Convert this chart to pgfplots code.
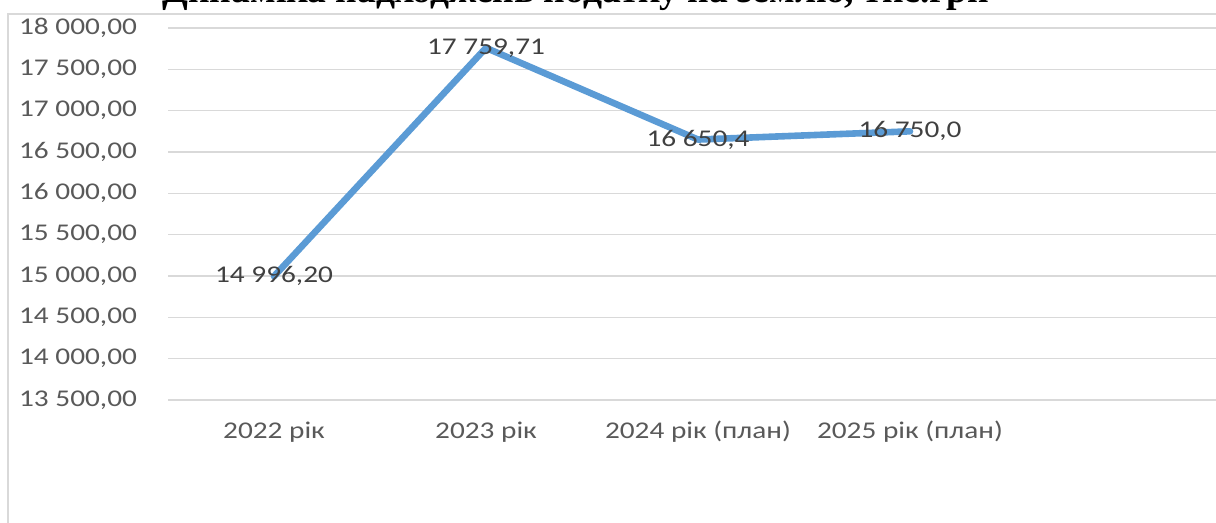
\documentclass[border=0pt]{standalone}
\usepackage{pgfplots}
\pgfplotsset{compat=1.18}
\usepackage{fontspec}
\setmainfont{Carlito}[FakeStretch=1.22]
\newfontfamily\titlefont{Liberation Serif}
\definecolor{linebl}{HTML}{5B9BD5}
\definecolor{gridgr}{HTML}{D9D9D9}
\definecolor{txtgr}{HTML}{595959}
\definecolor{lblgr}{HTML}{404040}
\begin{document}
\begin{tikzpicture}
% image is 1216 x 523 px, 1 px = 0.5pt
\useasboundingbox (0,0) rectangle (608pt,261.5pt);
\clip (0,0) rectangle (608pt,261.5pt);
% chart area border (left and top only visible)
\draw[gridgr, line width=0.9pt] (4pt,-5pt) -- (4pt,254.5pt) -- (620pt,254.5pt);
% title, mostly cut off at the top
\node[anchor=base, inner sep=0pt, font=\titlefont\bfseries\fontsize{18.8pt}{22pt}\selectfont]
  at (288pt,260pt) {Динаміка надходжень податку на землю, тис.грн};
\begin{axis}[
    at={(84pt,61.5pt)}, anchor=south west,
    scale only axis,
    width=530pt, height=186pt,
    xmin=-0.5, xmax=4.5,
    ymin=13500, ymax=18000,
    axis line style={draw=none},
    clip=false,
    scaled y ticks=false,
    xtick={0,1,2,3},
    xticklabels={2022 рік, 2023 рік, 2024 рік (план), 2025 рік (план)},
    ytick={13500,14000,14500,15000,15500,16000,16500,17000,17500,18000},
    yticklabels={{13 500,00},{14 000,00},{14 500,00},{15 000,00},{15 500,00},
                 {16 000,00},{16 500,00},{17 000,00},{17 500,00},{18 000,00}},
    major tick length=0pt,
    tick label style={font=\fontsize{12pt}{14pt}\selectfont, text=txtgr},
    yticklabel style={anchor=east, xshift=-12pt},
    xticklabel style={anchor=center, yshift=-16pt},
    ymajorgrids,
    grid style={gridgr, line width=0.8pt},
]
\addplot[line width=3.3pt, color=linebl, line join=round, line cap=round,
    mark=none,
    nodes near coords,
    point meta=explicit symbolic,
    nodes near coords style={anchor=center, text=lblgr, inner sep=0pt,
        font=\fontsize{12pt}{14pt}\selectfont},
] coordinates {
    (0,14996.20) [14 996,20]
    (1,17759.71) [17 759,71]
    (2,16650.4)  [16 650,4]
    (3,16750.0)  [16 750,0]
};
\end{axis}
\end{tikzpicture}
\end{document}
